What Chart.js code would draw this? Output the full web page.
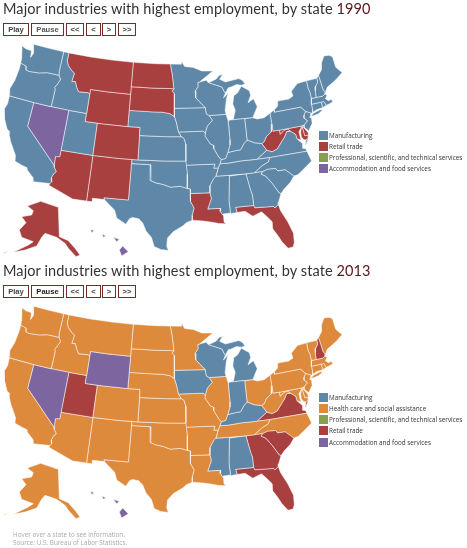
<!DOCTYPE html>
<html><head><meta charset="utf-8">
<script src="https://cdn.jsdelivr.net/npm/chart.js@4"></script>
<style>
html,body{margin:0;padding:0;background:#fff;width:467px;height:548px;overflow:hidden}
#page{position:relative;width:467px;height:548px;overflow:hidden}
canvas{position:absolute;left:0}
.title{position:absolute;left:3px;font:14.5px/18px Lato,sans-serif;color:#333;white-space:nowrap;letter-spacing:.1px}
.title b{font-weight:400;color:#5c1518}
.btn{position:absolute;box-sizing:border-box;height:13px;border:1px solid #7a2a2c;font:bold 7.6px/11px "Liberation Sans",sans-serif;color:#444;text-align:center;background:#fff}
.sw{position:absolute;left:319px;width:9px;height:9px}
.lg{position:absolute;left:329px;font:6.35px/9px "Open Sans",sans-serif;color:#333;white-space:nowrap}
.foot{position:absolute;left:13px;font:6.35px/8px "Open Sans",sans-serif;color:#aaa;white-space:nowrap}
</style></head><body><div id="page"></div>
<script>
// State outlines, longitude and latitude
const WA=[[-122.76,49],[-120,49],[-117.03,49],[-117.04,46.42],[-116.92,45.995],[-118.98,46],[-119.3,45.93],[-120.5,45.7],[-121.2,45.65],[-122.2,45.57],[-122.75,45.65],[-122.9,46.1],[-123.4,46.2],[-124,46.27],[-124.1,46.9],[-124.7,48.38],[-123.9,48.17],[-122.8,48.13],[-122.6,47.3],[-122.3,47.9],[-122.5,48.4]];
const OR=[[-124,46.27],[-123.4,46.2],[-122.9,46.1],[-122.75,45.65],[-122.2,45.57],[-121.2,45.65],[-120.5,45.7],[-119.3,45.93],[-118.98,46],[-116.92,45.995],[-116.5,45.5],[-116.85,44.9],[-117.2,44.4],[-117.03,44.2],[-117.03,42],[-120,42],[-124.2,42],[-124.5,42.85],[-124.1,44],[-123.95,45.5]];
const CA=[[-124.2,42],[-120,42],[-120,39],[-114.63,35],[-114.57,34.8],[-114.14,34.3],[-114.45,34],[-114.7,33.4],[-114.52,33],[-114.72,32.72],[-117.12,32.53],[-117.3,33],[-118.4,33.75],[-118.5,34.03],[-119.2,34.15],[-120.5,34.45],[-120.65,35.15],[-121.9,36.6],[-122.5,37.5],[-122.5,37.8],[-123,38],[-123.75,39],[-124.35,40.3],[-124.1,41]];
const NV=[[-120,42],[-117.03,42],[-114.04,42],[-114.04,37],[-114.05,36.2],[-114.7,36.1],[-114.63,35],[-120,39]];
const ID=[[-117.03,49],[-116.05,49],[-116.05,48],[-115.7,47.45],[-114.9,46.9],[-114.33,46.65],[-114.5,45.57],[-113.9,45.65],[-113.45,44.95],[-113,44.45],[-111.5,44.55],[-111.05,44.48],[-111.05,42],[-114.04,42],[-117.03,42],[-117.03,44.2],[-117.2,44.4],[-116.85,44.9],[-116.5,45.5],[-116.92,45.995],[-117.04,46.42]];
const MT=[[-116.05,49],[-112,49],[-108,49],[-104.05,49],[-104.05,45],[-108,45],[-111.05,45],[-111.05,44.48],[-111.5,44.55],[-113,44.45],[-113.45,44.95],[-113.9,45.65],[-114.5,45.57],[-114.33,46.65],[-114.9,46.9],[-115.7,47.45],[-116.05,48]];
const WY=[[-111.05,45],[-108,45],[-104.05,45],[-104.05,41],[-108,41],[-111.05,41]];
const ND=[[-104.05,49],[-100,49],[-97.23,49],[-96.85,47.6],[-96.56,45.94],[-100,45.94],[-104.05,45.94]];
const SD=[[-104.05,45.94],[-100,45.94],[-96.56,45.94],[-96.85,45.6],[-96.45,45.3],[-96.45,43.5],[-96.45,42.49],[-97.2,42.85],[-98.5,43],[-100,43],[-104.05,43]];
const NE=[[-104.05,43],[-100,43],[-98.5,43],[-97.2,42.85],[-96.45,42.49],[-96.1,41.7],[-95.9,41],[-95.77,40.58],[-95.31,40],[-98,40],[-102.05,40],[-102.05,41],[-104.05,41]];
const CO=[[-109.05,41],[-104.05,41],[-102.05,41],[-102.05,37],[-105,37],[-109.05,37]];
const UT=[[-114.04,42],[-111.05,42],[-111.05,41],[-109.05,41],[-109.05,37],[-114.05,37]];
const AZ=[[-114.05,37],[-109.05,37],[-109.05,31.33],[-111.07,31.33],[-114.81,32.5],[-114.72,32.72],[-114.52,33],[-114.7,33.4],[-114.45,34],[-114.14,34.3],[-114.57,34.8],[-114.63,35],[-114.7,36.1],[-114.05,36.2]];
const NM=[[-109.05,37],[-105,37],[-103,37],[-103.05,32],[-106.62,32],[-106.53,31.78],[-108.2,31.78],[-108.2,31.33],[-109.05,31.33]];
const KS=[[-102.05,40],[-98,40],[-95.31,40],[-94.9,39.8],[-94.62,39.1],[-94.62,37],[-98,37],[-102.05,37]];
const OK=[[-103,37],[-102.05,37],[-98,37],[-94.62,37],[-94.43,35.4],[-94.48,33.64],[-95.5,33.9],[-97,33.8],[-98,34.1],[-99.2,34.3],[-100,34.56],[-100,36.5],[-103,36.5]];
const TX=[[-103,36.5],[-100,36.5],[-100,34.56],[-99.2,34.3],[-98,34.1],[-97,33.8],[-95.5,33.9],[-94.48,33.64],[-94.04,33.55],[-94.04,33],[-94.04,32],[-93.55,31.2],[-93.85,30.3],[-93.85,29.7],[-94.7,29.4],[-95.2,29],[-96.5,28.3],[-97.3,27.5],[-97.4,26.5],[-97.15,25.95],[-98.2,26.05],[-99.1,26.4],[-99.5,27.5],[-100.3,28.3],[-100.8,29.25],[-101.4,29.77],[-102.3,29.88],[-102.7,29.7],[-103.15,28.98],[-104.5,29.65],[-104.9,30.6],[-106,31.4],[-106.53,31.78],[-106.62,32],[-103.05,32]];
const MN=[[-97.23,49],[-95.15,49],[-95.15,49.38],[-94.6,48.7],[-93,48.55],[-91.5,48.07],[-89.5,48],[-92,46.7],[-92.3,46.66],[-92.3,46.1],[-92.85,45.6],[-92.75,44.75],[-91.22,43.5],[-96.45,43.5],[-96.45,45.3],[-96.85,45.6],[-96.56,45.94],[-96.85,47.6]];
const IA=[[-96.45,43.5],[-91.22,43.5],[-91.1,42.7],[-90.64,42.5],[-90.15,41.9],[-91.05,41.2],[-91.42,40.38],[-91.73,40.61],[-95.77,40.58],[-95.9,41],[-96.1,41.7],[-96.45,42.49]];
const MO=[[-95.77,40.58],[-91.73,40.61],[-91.42,40.38],[-91.5,40],[-90.7,39],[-90.2,38.8],[-90.2,38.4],[-89.5,37.3],[-89.15,37],[-89.4,36.5],[-89.7,36],[-90.37,36],[-90.15,36.5],[-94.62,36.5],[-94.62,39.1],[-94.9,39.8],[-95.31,40]];
const AR=[[-94.62,36.5],[-90.15,36.5],[-90.37,36],[-89.7,36],[-90.1,35.1],[-90.6,34.6],[-91.1,33.9],[-91.17,33],[-94.04,33],[-94.04,33.55],[-94.48,33.64],[-94.43,35.4]];
const LA=[[-94.04,33],[-91.17,33],[-91,32.3],[-91.6,31],[-89.73,31],[-89.85,30.65],[-89.55,30.2],[-89.4,30.05],[-89.4,29.3],[-89.1,29.05],[-90.1,29.15],[-91.3,29.4],[-92.3,29.55],[-93.85,29.7],[-93.85,30.3],[-93.55,31.2],[-94.04,32]];
const WI=[[-92.3,46.66],[-92,46.7],[-90.8,46.9],[-90.4,46.55],[-88.1,45.9],[-87.8,45.35],[-87.6,45.1],[-88,44.55],[-87.4,44.9],[-87.05,45.25],[-87.5,44.4],[-87.9,43],[-87.8,42.5],[-90.64,42.5],[-91.1,42.7],[-91.22,43.5],[-92.75,44.75],[-92.85,45.6],[-92.3,46.1]];
const IL=[[-90.64,42.5],[-87.8,42.5],[-87.55,41.7],[-87.53,39.35],[-87.6,38.7],[-88.05,37.8],[-88.45,37.1],[-89.15,37],[-89.5,37.3],[-90.2,38.4],[-90.2,38.8],[-90.7,39],[-91.5,40],[-91.42,40.38],[-91.05,41.2],[-90.15,41.9]];
const IN=[[-87.53,41.7],[-87.2,41.76],[-84.8,41.76],[-84.82,39.1],[-85.4,38.7],[-86,38],[-86.8,37.95],[-88.05,37.8],[-87.6,38.7],[-87.53,39.35]];
const OH=[[-84.8,41.72],[-83.45,41.73],[-82.7,41.5],[-81.6,41.55],[-80.52,41.98],[-80.52,40.64],[-80.8,39.7],[-81.7,39.2],[-82.2,38.6],[-82.6,38.45],[-83.7,38.65],[-84.82,39.1]];
const MIL=[[-86.8,41.76],[-84.8,41.76],[-83.45,41.73],[-83.1,42.2],[-82.45,43],[-82.9,44.05],[-83.9,43.65],[-83.3,44.5],[-83.4,45.1],[-84.7,45.78],[-85.5,45],[-86.2,44.7],[-86.5,43.7],[-86.2,42.9],[-86.6,41.95]];
const MIU=[[-90.4,46.55],[-89,46.95],[-88.4,47.4],[-87.8,47.45],[-88.4,46.9],[-87.4,46.5],[-86,46.65],[-85,46.75],[-84.4,46.5],[-84,46],[-84.7,45.9],[-85.5,46.05],[-86.5,45.8],[-87,45.75],[-87.6,45.1],[-87.8,45.35],[-88.1,45.9]];
const KY=[[-89.4,36.5],[-89.15,37],[-88.45,37.1],[-88.05,37.8],[-86.8,37.95],[-86,38],[-85.4,38.7],[-84.82,39.1],[-83.7,38.65],[-82.6,38.45],[-81.97,37.54],[-83.68,36.6],[-86,36.63],[-88.07,36.5]];
const TN=[[-90.1,35],[-89.7,36],[-89.4,36.5],[-88.07,36.5],[-86,36.63],[-83.68,36.6],[-81.68,36.59],[-82,36.1],[-83,35.75],[-84.32,35],[-85.6,34.98],[-88.2,35]];
const MS=[[-90.3,35],[-88.2,35],[-88.1,34.9],[-88.47,31.9],[-88.4,30.35],[-89.4,30.3],[-89.55,30.2],[-89.85,30.65],[-89.73,31],[-91.6,31],[-91,32.3],[-91.17,33],[-91.1,33.9],[-90.6,34.6]];
const AL=[[-88.1,34.9],[-85.6,34.98],[-85.18,32.87],[-85,32.3],[-85,31],[-87.6,31],[-87.45,30.35],[-88.4,30.25],[-88.47,31.9]];
const GA=[[-85.6,34.98],[-83.1,35],[-83.35,34.7],[-82.7,34.4],[-81.9,33.4],[-81.1,32.1],[-80.85,32],[-81.4,31],[-81.5,30.72],[-82.05,30.36],[-82.2,30.57],[-84.86,30.7],[-85,31],[-85,32.3],[-85.18,32.87]];
const FL=[[-87.6,31],[-85,31],[-84.86,30.7],[-82.2,30.57],[-82.05,30.36],[-81.5,30.72],[-81.3,29.9],[-80.55,28.4],[-80.05,26.9],[-80.15,25.75],[-80.4,25.2],[-81.1,25.15],[-81.8,26.1],[-82.2,26.9],[-82.75,27.8],[-82.7,28.7],[-83.4,29.5],[-84,30.1],[-85.3,29.7],[-86.3,30.4],[-87.45,30.35]];
const SC=[[-83.1,35],[-82.3,35.2],[-81.05,35.15],[-80.8,34.82],[-79.67,34.8],[-78.55,33.86],[-79.2,33.2],[-80.3,32.5],[-80.85,32],[-81.1,32.1],[-81.9,33.4],[-82.7,34.4],[-83.35,34.7]];
const NC=[[-84.32,35],[-83.1,35],[-82.3,35.2],[-81.05,35.15],[-80.8,34.82],[-79.67,34.8],[-78.55,33.86],[-77.9,33.95],[-76.6,34.65],[-75.5,35.25],[-75.87,36.55],[-81.68,36.59],[-82,36.1],[-83,35.75]];
const VA=[[-83.68,36.6],[-81.68,36.59],[-75.87,36.55],[-76,36.9],[-76.4,37],[-76.3,37.6],[-77,38.3],[-77.05,38.85],[-77.72,39.32],[-78.35,39.4],[-78.87,38.77],[-79.3,38.42],[-80.3,37.5],[-81.2,37.25],[-81.97,37.54]];
const VAE=[[-75.95,37.15],[-75.65,37.95],[-75.25,38.03]];
const WV=[[-82.6,38.45],[-82.2,38.6],[-81.7,39.2],[-80.8,39.7],[-80.52,40.64],[-80.52,39.72],[-79.48,39.72],[-79.48,39.2],[-78.75,39.6],[-78.2,39.68],[-77.72,39.32],[-78.35,39.4],[-78.87,38.77],[-79.3,38.42],[-80.3,37.5],[-81.2,37.25],[-81.97,37.54]];
const PA=[[-80.52,41.98],[-79.76,42.27],[-79.76,42],[-75.35,42],[-74.7,41.36],[-75.1,40.95],[-75.2,40.6],[-74.75,40.2],[-75.4,39.8],[-75.8,39.72],[-79.48,39.72],[-80.52,39.72],[-80.52,40.64]];
const MDW=[[-79.48,39.72],[-75.8,39.72],[-76.1,39.4],[-76.45,39.1],[-76.45,38.4],[-76.35,38.05],[-77,38.3],[-77.05,38.85],[-77.72,39.32],[-78.2,39.68],[-78.75,39.6],[-79.48,39.2]];
const MDE=[[-75.8,39.72],[-75.7,38.46],[-75.05,38.45],[-75.25,38.03],[-75.65,37.95],[-75.95,38],[-76.25,38.4],[-76.2,39],[-76,39.4]];
const DE=[[-75.8,39.72],[-75.45,39.8],[-75.55,39.45],[-75.1,38.8],[-75.05,38.45],[-75.7,38.46]];
const NJ=[[-74.7,41.36],[-73.9,41],[-74.25,40.5],[-74,40.45],[-74.1,39.75],[-74.9,38.95],[-75.5,39.5],[-75.4,39.8],[-74.75,40.2],[-75.2,40.6],[-75.1,40.95]];
const NY=[[-79.76,42.27],[-79.05,42.7],[-78.9,43.3],[-77,43.28],[-76.2,43.55],[-76.3,44.15],[-75,44.95],[-73.35,45.01],[-73.4,44],[-73.25,43.55],[-73.27,42.75],[-73.5,42.05],[-73.5,41.3],[-73.65,41],[-73.9,41],[-74.7,41.36],[-75.35,42],[-79.76,42]];
const LI=[[-74,40.6],[-73.6,40.9],[-72.3,41.15],[-71.9,41.05],[-72.8,40.7]];
const VT=[[-73.35,45.01],[-71.5,45.01],[-71.55,44.5],[-72.05,44.1],[-72.3,43.6],[-72.46,42.73],[-73.27,42.75],[-73.25,43.55],[-73.4,44]];
const NH=[[-71.5,45.01],[-71.1,45.3],[-70.98,43.4],[-70.7,43.07],[-70.85,42.87],[-71.3,42.7],[-72.46,42.73],[-72.3,43.6],[-72.05,44.1],[-71.55,44.5]];
const ME=[[-71.1,45.3],[-70.3,45.9],[-70,46.7],[-69.23,47.46],[-68.3,47.35],[-67.8,47.07],[-67.8,45.7],[-67.45,45.3],[-67,44.85],[-68.2,44.3],[-69,44],[-70.2,43.6],[-70.7,43.07],[-70.98,43.4]];
const MA=[[-73.5,42.05],[-73.27,42.75],[-72.46,42.73],[-71.3,42.7],[-70.85,42.87],[-70.6,42.65],[-71,42.3],[-70.6,41.95],[-70.1,42.05],[-69.95,41.7],[-70.65,41.55],[-71.13,41.5],[-71.38,42.02],[-71.8,42.02]];
const CT=[[-73.5,42.05],[-71.8,42.02],[-71.85,41.32],[-72.9,41.25],[-73.65,41],[-73.5,41.3]];
const RI=[[-71.8,42.02],[-71.38,42.02],[-71.13,41.5],[-71.85,41.32]];
const lower48=[WA,OR,CA,NV,ID,MT,WY,ND,SD,NE,CO,UT,AZ,NM,KS,OK,TX,MN,IA,MO,AR,LA,WI,IL,IN,OH,MIL,MIU,KY,TN,MS,AL,GA,FL,SC,NC,VA,VAE,WV,PA,MDW,MDE,DE,NJ,NY,LI,VT,NH,ME,MA,CT,RI];
const lower48Names=["WA","OR","CA","NV","ID","MT","WY","ND","SD","NE","CO","UT","AZ","NM","KS","OK","TX","MN","IA","MO","AR","LA","WI","IL","IN","OH","MI","MI","KY","TN","MS","AL","GA","FL","SC","NC","VA","VA","WV","PA","MD","MD","DE","NJ","NY","NY","VT","NH","ME","MA","CT","RI"];

// Inset outlines in map units
const AK=[[82,618],[122,604],[175,622],[178,710],[205,722],[225,745],[240,765],[228,770],[205,745],[195,730],[170,712],[135,700],[125,712],[110,738],[75,750],[40,757],[85,735],[100,725],[65,712],[58,690],[78,668],[65,650],[95,645],[100,632]];
const AKI=[[10,758],[28,754],[12,760]];
const HI1=[[368,738],[385,755],[365,768],[358,750]];
const HI2=[[340,712],[358,718],[350,725]];
const HI3=[[306,702],[318,708],[310,712]];
const HI4=[[272,688],[282,692],[275,698]];
const insets=[AK,AKI,HI1,HI2,HI3,HI4];
const insetNames=["AK","AK","HI","HI","HI","HI"];

// Industry by state
const retail1990=["MT","ND","SD","WY","CO","AZ","NM","LA","FL","AK","WV","MD","DE"];
const accommodation1990=["NV","HI"];
const manufacturing2013=["WI","MI","IA","IN","KY","MS","AL"];
const retail2013=["NH","UT","VA","GA","SC","FL"];
const accommodation2013=["NV","WY","HI"];

const colors={mfg:"#5f88a8",health:"#de8a3d",prof:"#86a04e",retail:"#a8403f",food:"#7d65a0"};
const legend1990=[["Manufacturing","mfg"],["Retail trade","retail"],["Professional, scientific, and technical services","prof"],["Accommodation and food services","food"]];
const legend2013=[["Manufacturing","mfg"],["Health care and social assistance","health"],["Professional, scientific, and technical services","prof"],["Retail trade","retail"],["Accommodation and food services","food"]];
const buttons=["Play","Pause","<<","<",">",">>"];
const titleText="Major industries with highest employment, by state ";

const color1990=n=>retail1990.includes(n)?colors.retail:accommodation1990.includes(n)?colors.food:colors.mfg;
const color2013=n=>manufacturing2013.includes(n)?colors.mfg:retail2013.includes(n)?colors.retail:accommodation2013.includes(n)?colors.food:colors.health;

// Albers equal-area conic (parallels 29.5 and 45.5, centred on 96 W)
const rad=Math.PI/180,s1=Math.sin(29.5*rad),s2=Math.sin(45.5*rad),n=(s1+s2)/2,C=Math.cos(29.5*rad)**2+2*n*s1,rho0=Math.sqrt(C-2*n*Math.sin(38.7*rad))/n;
function project([lon,lat]){
  const rho=Math.sqrt(C-2*n*Math.sin(lat*rad))/n,t=n*(lon+96)*rad;
  return [531+1405*rho*Math.sin(t),442-1385*(rho0-rho*Math.cos(t))];
}
const shapes=lower48.map(s=>s.map(project)).concat(insets);
const shapeNames=lower48Names.concat(insetNames);

// Fills each state's closed outline, using the point positions the library computed from its scales.
const polygonFill={id:'polygonFill',beforeDatasetDraw(chart,args){
  const pts=chart.getDatasetMeta(args.index).data,ctx=chart.ctx;
  ctx.save();ctx.beginPath();
  pts.forEach((p,i)=>i?ctx.lineTo(p.x,p.y):ctx.moveTo(p.x,p.y));
  ctx.closePath();ctx.fillStyle=chart.data.datasets[args.index].backgroundColor;ctx.fill();ctx.restore();
}};

const page=document.getElementById('page');
function el(cls,css,txt){const d=document.createElement('div');d.className=cls;Object.assign(d.style,css);if(txt!==undefined)d.textContent=txt;page.appendChild(d);return d;}
const btnBox=[[3,26],[31,33],[66,18],[86,15],[102,14],[118,18]];

function panel(top,year,colorOf,legend,boldPause){
  const c=document.createElement('canvas');c.width=467;c.height=270;c.style.top=top+'px';c.style.width='467px';c.style.height='270px';page.appendChild(c);
  new Chart(c,{type:'scatter',plugins:[polygonFill],data:{datasets:shapes.map((s,i)=>({
      label:shapeNames[i],
      data:s.concat([s[0]]).map(p=>({x:p[0],y:p[1]})),
      showLine:true,fill:false,tension:0,pointRadius:0,clip:false,
      backgroundColor:colorOf(shapeNames[i]),
      borderColor:'rgba(255,255,255,0.72)',borderWidth:0.7}))},
    options:{responsive:false,animation:false,events:[],layout:{padding:0},
      plugins:{legend:{display:false},tooltip:{enabled:false},title:{display:false}},
      scales:{x:{type:'linear',display:false,min:0,max:1401},y:{type:'linear',display:false,min:0,max:810,reverse:true}}}});
  const t=el('title',{top:(top+0)+'px'},titleText);
  const b=document.createElement('b');b.textContent=year;t.appendChild(b);
  buttons.forEach((txt,i)=>{const d=el('btn',{left:btnBox[i][0]+'px',width:btnBox[i][1]+'px',top:(top+22.5)+'px'},txt);
    if(txt==='Pause')d.style.color=boldPause?'#222':'#555';});
  legend.forEach((r,i)=>{const y=top+130.5+i*11.3;
    el('sw',{top:y+'px',background:colors[r[1]]});
    el('lg',{top:y+'px'},r[0]);});
}
panel(0,"1990",color1990,legend1990,false);
panel(262,"2013",color2013,legend2013,true);
el('foot',{top:'531px'},"Hover over a state to see information.");
el('foot',{top:'539px'},"Source: U.S. Bureau of Labor Statistics.");
</script></body></html>
